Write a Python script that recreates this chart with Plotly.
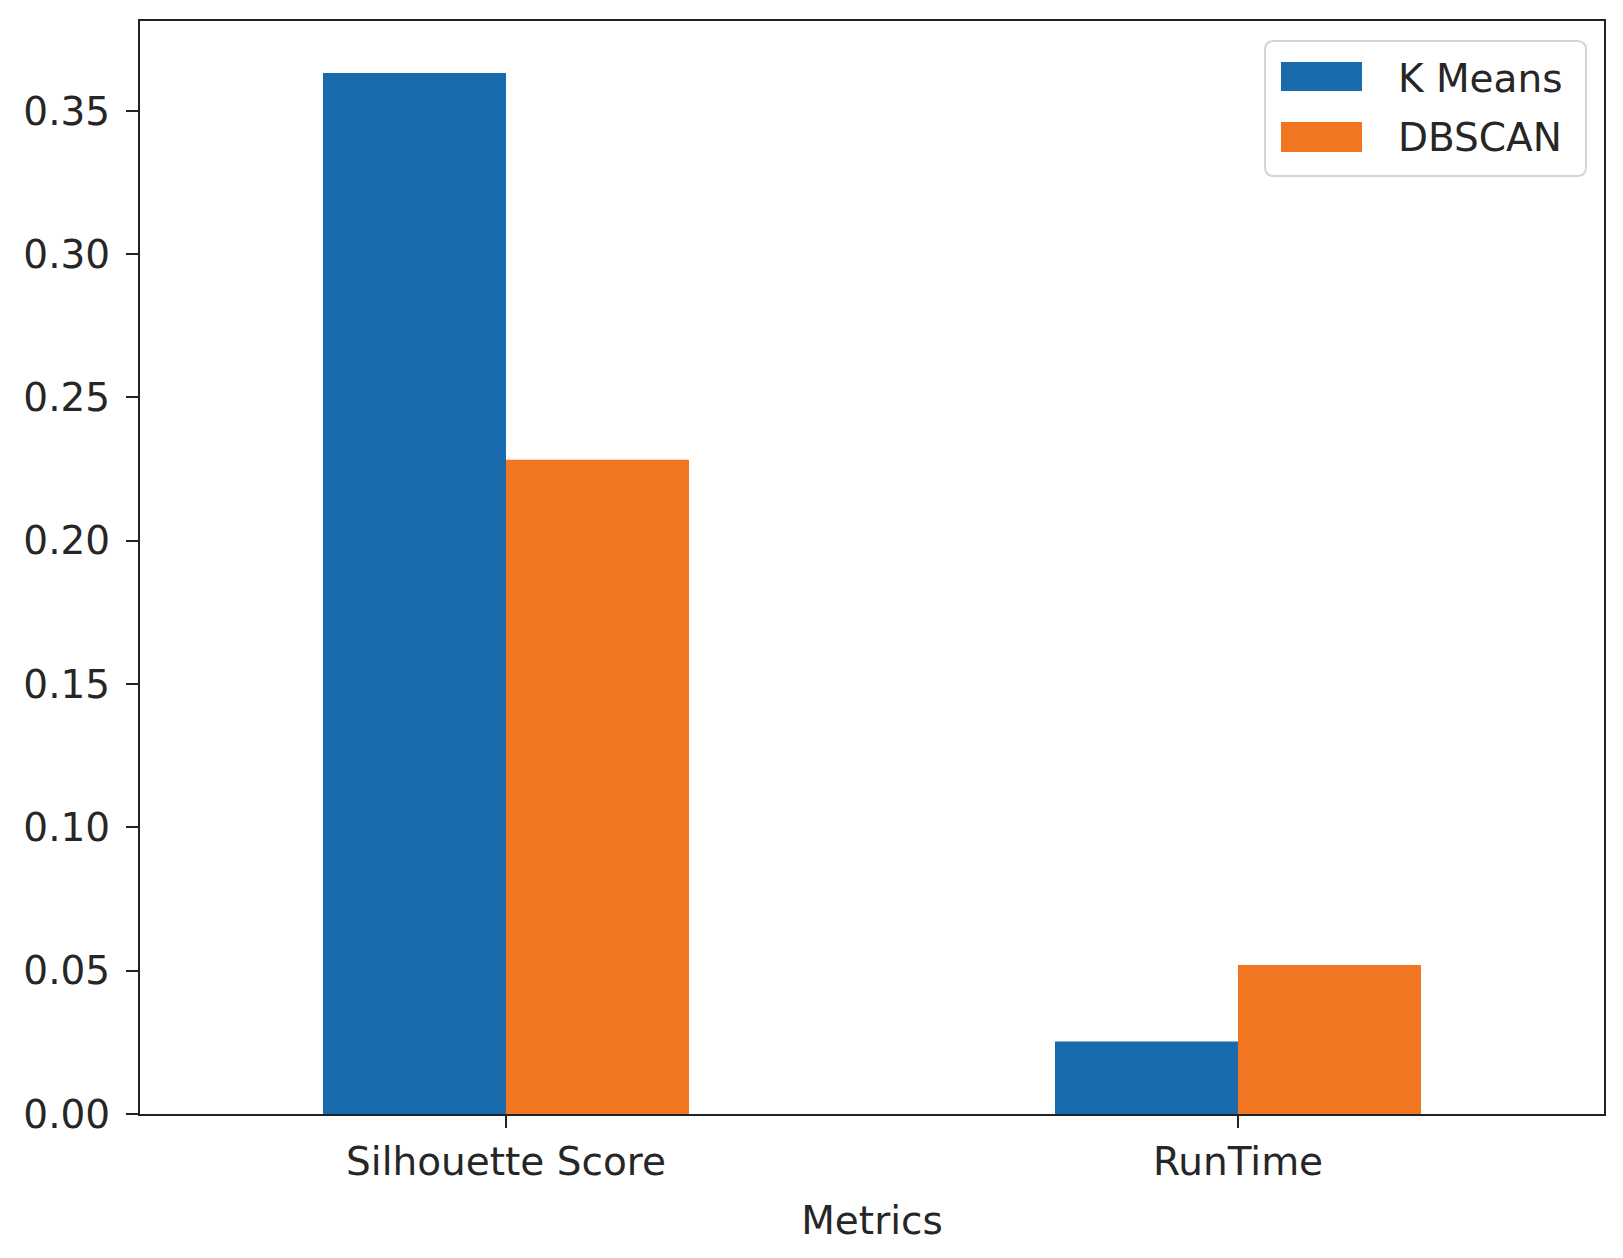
import plotly.graph_objects as go

# ---- data ----
categories = ["Silhouette Score", "RunTime"]
kmeans_values = [0.3632, 0.0253]
dbscan_values = [0.2283, 0.0520]
series_names = ["K Means", "DBSCAN"]
y_tick_values = [0.00, 0.05, 0.10, 0.15, 0.20, 0.25, 0.30, 0.35]
x_title = "Metrics"

# ---- styling ----
W, H = 1623, 1258
L, R, T, B = 140, 1604, 21, 1114
BLUE = "#196bab"
ORANGE = "#f27522"
TXT = "#262626"
FONT = "DejaVu Sans"
FS = 39


def pxx(x):
    return (x - L) / (R - L)


def pxy(y):
    return (B - y) / (B - T)


fig = go.Figure()
fig.add_trace(go.Bar(x=categories, y=kmeans_values, name=series_names[0],
                     marker=dict(color=BLUE, line=dict(width=0)), showlegend=False))
fig.add_trace(go.Bar(x=categories, y=dbscan_values, name=series_names[1],
                     marker=dict(color=ORANGE, line=dict(width=0)), showlegend=False))

ymax = max(max(kmeans_values), max(dbscan_values)) * 1.05

fig.update_layout(
    width=W, height=H,
    margin=dict(l=L, r=W - R, t=T, b=H - B, pad=0),
    paper_bgcolor="white", plot_bgcolor="white",
    barmode="group", bargap=0.5, bargroupgap=0,
    font=dict(family=FONT, size=FS, color=TXT),
    xaxis=dict(
        type="category", range=[-0.5, 1.5],
        showline=True, linecolor="#222", linewidth=2, mirror=True,
        ticks="outside", ticklen=12, tickwidth=2, tickcolor="#222",
        showgrid=False, zeroline=False,
        tickfont=dict(family=FONT, size=FS, color=TXT),
        title=dict(text=x_title, standoff=24, font=dict(family=FONT, size=FS, color=TXT)),
    ),
    yaxis=dict(
        range=[0, ymax],
        tickvals=y_tick_values, ticktext=[f"{v:.2f}" for v in y_tick_values],
        showline=True, linecolor="#222", linewidth=2, mirror=True,
        ticks="outside", ticklen=12, tickwidth=2, tickcolor="#222",
        showgrid=False, zeroline=False,
        tickfont=dict(family=FONT, size=FS, color=TXT),
        ticklabelstandoff=8,
    ),
)

# ---- custom legend (matplotlib-like large swatches) ----
bx0, bx1, by0, by1, rad = 1265, 1586, 41, 176, 9


def rounded_path(x0, y0, x1, y1, r):
    pts = [
        f"M {pxx(x0 + r)},{pxy(y0)}",
        f"L {pxx(x1 - r)},{pxy(y0)}",
        f"Q {pxx(x1)},{pxy(y0)} {pxx(x1)},{pxy(y0 + r)}",
        f"L {pxx(x1)},{pxy(y1 - r)}",
        f"Q {pxx(x1)},{pxy(y1)} {pxx(x1 - r)},{pxy(y1)}",
        f"L {pxx(x0 + r)},{pxy(y1)}",
        f"Q {pxx(x0)},{pxy(y1)} {pxx(x0)},{pxy(y1 - r)}",
        f"L {pxx(x0)},{pxy(y0 + r)}",
        f"Q {pxx(x0)},{pxy(y0)} {pxx(x0 + r)},{pxy(y0)}",
        "Z",
    ]
    return " ".join(pts)


fig.add_shape(type="path", xref="paper", yref="paper",
              path=rounded_path(bx0, by0, bx1, by1, rad),
              fillcolor="rgba(255,255,255,0.85)", line=dict(color="#d4d4d4", width=2))

swatches = [(62, 91, BLUE, 78), (122, 152, ORANGE, 137)]
for (sy0, sy1, col, ty), name in zip(swatches, series_names):
    fig.add_shape(type="rect", xref="paper", yref="paper",
                  x0=pxx(1281), x1=pxx(1362), y0=pxy(sy1), y1=pxy(sy0),
                  fillcolor=col, line=dict(width=0))
    fig.add_annotation(xref="paper", yref="paper", x=pxx(1396), y=pxy(ty),
                       text=name, showarrow=False, xanchor="left", yanchor="middle",
                       font=dict(family=FONT, size=FS, color=TXT))

fig.write_html("out.html", config={"displayModeBar": False},
               post_script="document.body.style.margin='0';document.body.style.overflow='hidden';")
